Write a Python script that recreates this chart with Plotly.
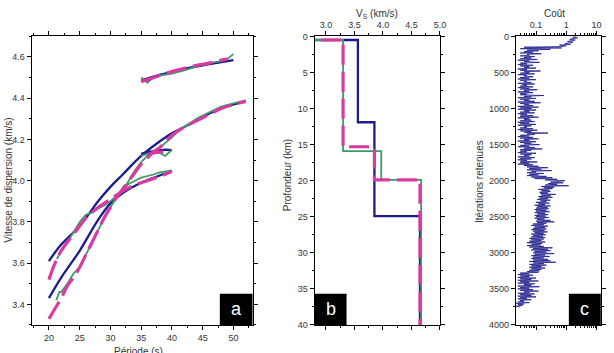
import plotly.graph_objects as go

# ---------------- Panel a : dispersion curves ----------------
# blue (reference model)
per_blue1 = [20, 22, 25, 28, 30, 32, 35, 38, 40, 42, 45, 48, 50, 52]
vel_blue1 = [3.61, 3.69, 3.78, 3.90, 3.97, 4.03, 4.12, 4.19, 4.23, 4.26, 4.31, 4.35, 4.37, 4.385]
per_blue2 = [20, 22, 25, 28, 30, 32, 35, 38, 40]
vel_blue2 = [3.43, 3.53, 3.66, 3.81, 3.89, 3.94, 3.99, 4.025, 4.047]
per_blue3 = [35, 36, 37, 38, 39, 40]
vel_blue3 = [4.13, 4.138, 4.143, 4.147, 4.15, 4.148]
per_blue4 = [35, 37, 40, 42, 45, 48, 50]
vel_blue4 = [4.485, 4.505, 4.528, 4.542, 4.56, 4.575, 4.585]

# green (solid)
per_green1 = [21.3, 22, 23, 24, 25, 26, 27, 28, 29, 30, 31, 32, 33, 34, 35, 37, 38, 40]
vel_green1 = [3.62, 3.66, 3.70, 3.75, 3.80, 3.835, 3.845, 3.865, 3.88, 3.90, 3.93, 3.96,
              3.985, 4.0, 4.015, 4.03, 4.04, 4.05]
per_green2 = [21.2, 21.7, 22, 23, 24, 25, 26, 27, 28, 29, 30, 31, 32, 33, 34, 35, 36, 37,
              38, 40, 41, 42, 44, 46, 48, 50, 52]
vel_green2 = [3.42, 3.46, 3.46, 3.50, 3.55, 3.58, 3.64, 3.70, 3.76, 3.82, 3.87, 3.92, 3.95,
              4.0, 4.05, 4.09, 4.12, 4.14, 4.16, 4.21, 4.24, 4.26, 4.30, 4.33, 4.36, 4.375, 4.39]
per_green3 = [35, 36, 37, 38, 38.9, 40]
vel_green3 = [4.12, 4.13, 4.135, 4.135, 4.12, 4.15]
per_green4 = [35, 35.5, 36, 37, 38, 40, 42, 44, 46, 48, 49, 50]
vel_green4 = [4.50, 4.49, 4.475, 4.50, 4.51, 4.52, 4.535, 4.555, 4.57, 4.58, 4.59, 4.615]

# pink (dashed)
per_pink1 = [20, 21, 22, 24, 25, 26, 28, 29, 30, 31, 32, 34, 35, 36, 38, 40]
vel_pink1 = [3.52, 3.60, 3.66, 3.74, 3.78, 3.82, 3.87, 3.89, 3.91, 3.93, 3.95, 3.98, 3.99,
             4.00, 4.02, 4.045]
per_pink2 = [20, 21, 22, 23, 24, 25, 26, 27, 28, 29, 30, 31, 32, 33, 34, 35, 36, 37, 38,
             40, 42, 44, 46, 48, 50, 52]
vel_pink2 = [3.33, 3.38, 3.43, 3.49, 3.53, 3.58, 3.64, 3.70, 3.76, 3.82, 3.87, 3.92, 3.96,
             4.00, 4.04, 4.08, 4.11, 4.14, 4.16, 4.22, 4.26, 4.29, 4.32, 4.35, 4.37, 4.385]
per_pink3 = [36, 37, 38, 38.6]
vel_pink3 = [4.125, 4.135, 4.138, 4.14]
per_pink4 = [35, 36, 38, 40, 42, 44, 46, 48, 49]
vel_pink4 = [4.48, 4.49, 4.51, 4.53, 4.545, 4.56, 4.57, 4.585, 4.59]

# ---------------- Panel b : Vs profiles ----------------
blue_vs = [2.5, 3.56, 3.85, 4.65]
blue_bottom = [0.5, 11.9, 24.9, 45]
green_vs = [2.5, 3.30, 3.97, 4.67]
green_bottom = [0.5, 15.9, 19.9, 45]
pink_vs = [2.5, 3.30, 3.85, 4.65]
pink_bottom = [0.5, 15.3, 19.9, 45]

# ---------------- Panel c : cost vs retained iterations ----------------
iter_step = 10
cost = [
    2.2, 1.6, 2.4, 1.8, 1.3, 2.0, 1.5, 1.1, 1.7, 1.2,
    0.9, 1.4, 0.6, 1.0, 0.8, 0.04, 0.7, 0.03, 0.3, 0.05,
    0.12, 0.04, 0.08, 0.03, 0.15, 0.05, 0.06, 0.03, 0.09, 0.04,
    0.07, 0.03, 0.11, 0.025, 0.06, 0.04, 0.13, 0.03, 0.05, 0.025,
    0.08, 0.03, 0.06, 0.04, 0.10, 0.025, 0.05, 0.03, 0.14, 0.04,
    0.06, 0.03, 0.09, 0.025, 0.05, 0.04, 0.08, 0.03, 0.06, 0.025,
    0.10, 0.03, 0.05, 0.04, 0.07, 0.025, 0.09, 0.035, 0.05, 0.03,
    0.08, 0.025, 0.06, 0.03, 0.11, 0.04, 0.06, 0.025, 0.08, 0.03,
    0.05, 0.03, 0.18, 0.04, 0.07, 0.025, 0.10, 0.03, 0.06, 0.04,
    0.09, 0.025, 0.14, 0.03, 0.06, 0.04, 0.08, 0.025, 0.12, 0.03,
    0.07, 0.025, 0.10, 0.04, 0.06, 0.03, 0.09, 0.025, 0.05, 0.03,
    0.08, 0.03, 0.12, 0.025, 0.06, 0.04, 0.07, 0.03, 0.09, 0.025,
    0.06, 0.03, 0.10, 0.025, 0.07, 0.04, 0.05, 0.03, 0.08, 0.025,
    0.11, 0.03, 0.07, 0.04, 0.25, 0.05, 0.09, 0.03, 0.06, 0.025,
    0.08, 0.03, 0.12, 0.04, 0.06, 0.025, 0.10, 0.03, 0.07, 0.04,
    0.13, 0.03, 0.06, 0.025, 0.09, 0.04, 0.16, 0.03, 0.07, 0.03,
    0.05, 0.025, 0.10, 0.03, 0.07, 0.04, 0.06, 0.025, 0.09, 0.03,
    0.07, 0.025, 0.05, 0.03, 0.11, 0.03, 0.06, 0.025, 0.08, 0.04,
    0.12, 0.05, 0.25, 0.06, 0.15, 0.05, 0.33, 0.07, 0.10, 0.05,
    0.18, 0.06, 0.12, 0.05, 0.22, 0.07, 0.35, 0.09, 0.5, 0.2,
    0.9, 0.6, 0.3, 0.8, 0.25, 0.5, 0.2, 1.2, 0.15, 0.4,
    0.18, 0.35, 0.12, 0.28, 0.15, 0.30, 0.13, 0.25, 0.14, 0.45,
    0.15, 0.30, 0.12, 0.35, 0.13, 0.25, 0.11, 0.30, 0.14, 0.22,
    0.10, 0.28, 0.12, 0.20, 0.09, 0.30, 0.11, 0.24, 0.10, 0.26,
    0.09, 0.22, 0.10, 0.28, 0.09, 0.20, 0.11, 0.25, 0.09, 0.21,
    0.10, 0.26, 0.09, 0.19, 0.11, 0.30, 0.10, 0.40, 0.11, 0.22,
    0.08, 0.18, 0.07, 0.25, 0.09, 0.20, 0.08, 0.22, 0.07, 0.19,
    0.08, 0.24, 0.09, 0.18, 0.07, 0.21, 0.08, 0.17, 0.07, 0.20,
    0.06, 0.18, 0.07, 0.15, 0.06, 0.20, 0.05, 0.16, 0.07, 0.14,
    0.05, 0.18, 0.06, 0.35, 0.08, 0.25, 0.07, 0.30, 0.09, 0.22,
    0.08, 0.40, 0.09, 0.20, 0.07, 0.28, 0.08, 0.18, 0.07, 0.25,
    0.08, 0.30, 0.06, 0.45, 0.08, 0.18, 0.06, 0.22, 0.07, 0.15,
    0.06, 0.20, 0.07, 0.15, 0.06, 0.13, 0.05, 0.12, 0.03, 0.06,
    0.025, 0.08, 0.03, 0.06, 0.025, 0.10, 0.03, 0.07, 0.025, 0.12,
    0.03, 0.06, 0.025, 0.09, 0.04, 0.07, 0.025, 0.13, 0.03, 0.06,
    0.025, 0.08, 0.03, 0.12, 0.04, 0.06, 0.025, 0.09, 0.03, 0.07,
    0.025, 0.10, 0.03, 0.05, 0.025, 0.07, 0.03, 0.04, 0.025, 0.06,
    0.022, 0.04, 0.025, 0.035, 0.02, 0.03,
]
iterations = list(range(0, iter_step * len(cost), iter_step))

BLUE = "#1c1c8c"
GREEN = "#3e9a68"
PINK = "#d93aa0"
DASH = "20px,7px"
FONT = "Liberation Sans, Arial, sans-serif"

fig = go.Figure()


def add(x, y, color, width, dash, xa, ya, shape="linear"):
    fig.add_trace(go.Scatter(x=x, y=y, mode="lines",
                             line=dict(color=color, width=width, dash=dash, shape=shape),
                             xaxis=xa, yaxis=ya, showlegend=False, hoverinfo="skip"))


def steps(vs, bottoms):
    xs, ys = [], []
    top = 0
    for v, b in zip(vs, bottoms):
        xs += [v, v]
        ys += [top, b]
        top = b
    return xs, ys


# panel a
for px, py in [(per_blue1, vel_blue1), (per_blue2, vel_blue2), (per_blue3, vel_blue3), (per_blue4, vel_blue4)]:
    add(px, py, BLUE, 2.3, "solid", "x", "y", "spline")
for px, py in [(per_green1, vel_green1), (per_green2, vel_green2), (per_green3, vel_green3), (per_green4, vel_green4)]:
    add(px, py, GREEN, 1.8, "solid", "x", "y")
for px, py in [(per_pink1, vel_pink1), (per_pink2, vel_pink2), (per_pink3, vel_pink3), (per_pink4, vel_pink4)]:
    add(px, py, PINK, 3.2, DASH, "x", "y", "spline")

# panel b
bx, by = steps(blue_vs, blue_bottom)
add(bx, by, BLUE, 2.3, "solid", "x2", "y2")
gx, gy = steps(green_vs, green_bottom)
add(gx, gy, GREEN, 1.8, "solid", "x2", "y2")
kx, ky = steps(pink_vs, pink_bottom)
add(kx, ky, PINK, 3.2, DASH, "x2", "y2")

# panel c
add(cost, iterations, "#1a1a8a", 0.8, "solid", "x3", "y3")

YDOM = [0.0671, 0.9085]
common = dict(showline=True, linecolor="black", linewidth=1, mirror="ticks",
              ticks="outside", ticklen=4, tickwidth=1, tickcolor="black",
              showgrid=False, zeroline=False,
              tickfont=dict(family=FONT, size=9, color="#333"))
minor = lambda d: dict(ticks="outside", ticklen=2, tickwidth=1, tickcolor="black", dtick=d, tick0=0, showgrid=False)

fig.update_layout(
    width=614, height=353, margin=dict(l=0, r=0, t=0, b=0),
    paper_bgcolor="white", plot_bgcolor="white",
    font=dict(family=FONT, size=10, color="#333"),
    xaxis=dict(domain=[0.0521, 0.4153], range=[17.2, 53.1], dtick=5, tick0=0,
               minor=minor(2.5), anchor="y", **common),
    yaxis=dict(domain=YDOM, range=[3.30, 4.70], dtick=0.2, tick0=0, tickformat=".1f",
               minor=minor(0.1), anchor="x", **common),
    xaxis2=dict(domain=[0.5174, 0.7236], range=[2.8, 5.0], dtick=0.5, tick0=0, tickformat=".1f",
                side="top", minor=minor(0.25), anchor="y2", **common),
    yaxis2=dict(domain=YDOM, range=[40, 0], dtick=5, tick0=0, minor=minor(2.5), anchor="x2", **common),
    xaxis3=dict(domain=[0.8485, 0.9881], type="log", range=[-1.667, 1.144], side="top",
                tickvals=[0.1, 1, 10], ticktext=["0.1", "1", "10"],
                minor=dict(ticks="outside", ticklen=2, tickwidth=1, tickcolor="black", dtick="D1", showgrid=False),
                anchor="y3", **common),
    yaxis3=dict(domain=YDOM, range=[4000, 0], dtick=500, tick0=0, minor=minor(250), anchor="x3", **common),
)

ann = []


def title(text, x, y, angle=0, size=10):
    ann.append(dict(text=text, x=x / 614, y=1 - y / 353, xref="paper", yref="paper",
                    showarrow=False, textangle=angle, xanchor="center", yanchor="middle",
                    font=dict(size=size, color="#333", family=FONT)))


title("Vitesse de dispersion (km/s)", 9, 180, -90)
title("Période (s)", 140, 357)
title("Profondeur (km)", 290, 175, -90)
title("V<sub>S</sub> (km/s)", 381, 9)
title("Coût", 560, 9)
title("Itérations retenues", 485, 182, -90)
fig.update_layout(annotations=ann)

# corner label boxes
boxes = [("x", "y", 0.852, 1.0, "a"), ("x2", "y2", 0.0, 0.255, "b"), ("x3", "y3", 0.624, 1.0, "c")]
for xa, ya, x0, x1, lab in boxes:
    fig.add_shape(type="rect", xref=f"{xa} domain", yref=f"{ya} domain", x0=x0, x1=x1, y0=0, y1=0.108,
                  fillcolor="black", line=dict(width=0))
    fig.add_annotation(text=lab, xref=f"{xa} domain", yref=f"{ya} domain", x=(x0 + x1) / 2, y=0.054,
                       showarrow=False, xanchor="center", yanchor="middle",
                       font=dict(size=18, color="white", family=FONT))

fig.write_html("out.html")
